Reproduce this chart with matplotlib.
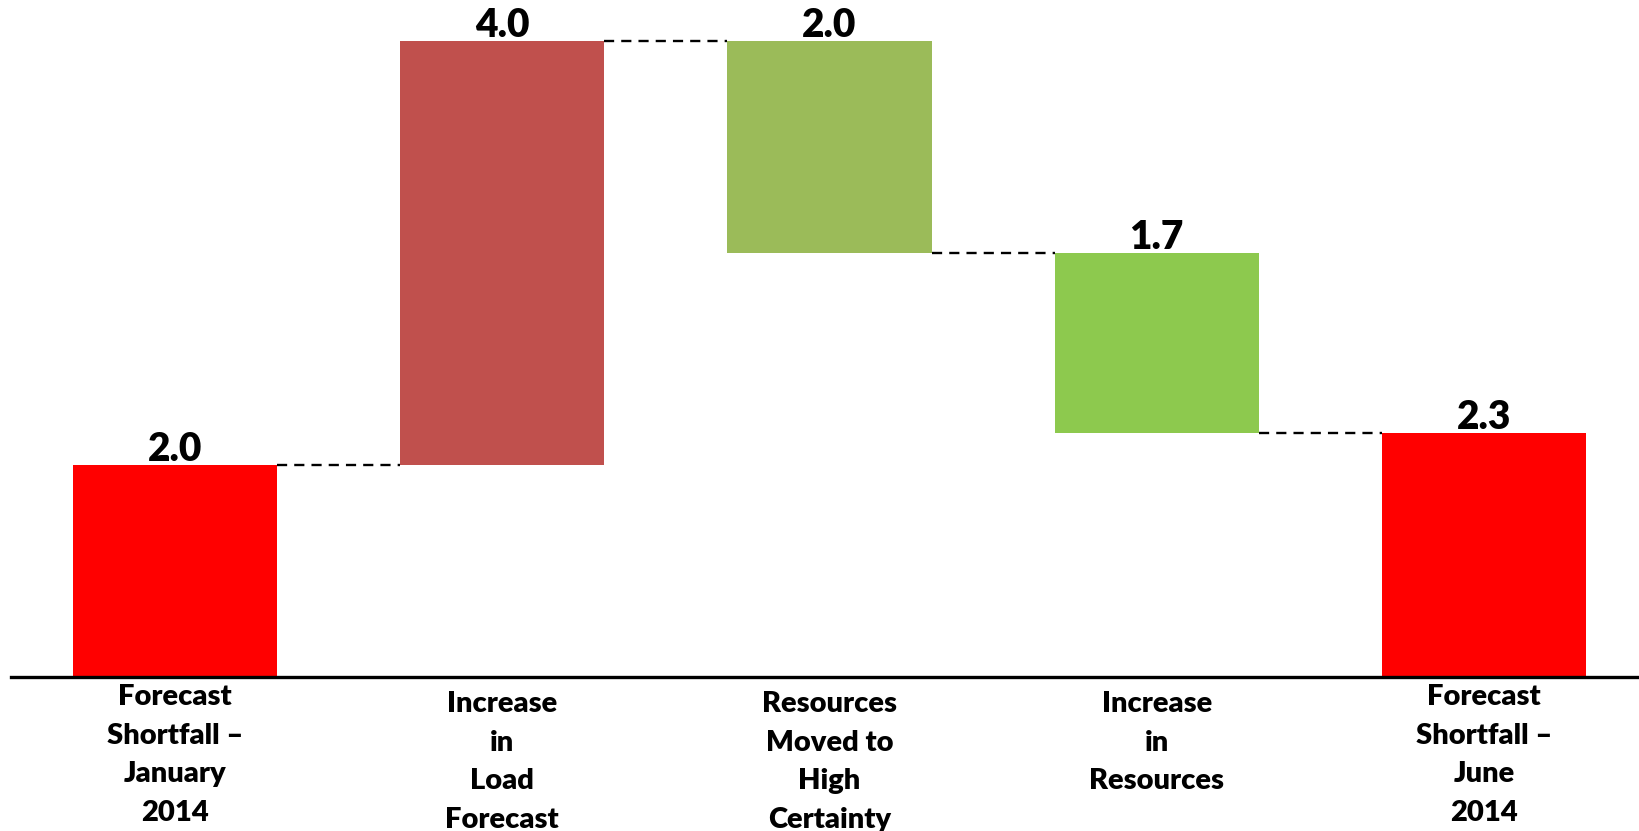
import numpy as np
import matplotlib
matplotlib.use("Agg")
import matplotlib.pyplot as plt

plt.rcParams['font.family'] = ['Lato', 'DejaVu Sans']
plt.rcParams['font.weight'] = 'heavy'

categories = [
    "Forecast\nShortfall –\nJanuary\n2014",
    "Increase\nin\nLoad\nForecast",
    "Resources\nMoved to\nHigh\nCertainty",
    "Increase\nin\nResources",
    "Forecast\nShortfall –\nJune\n2014",
]
# change per step; first and last are totals
changes = [2.0, 4.0, -2.0, -1.7, 2.3]
is_total = [True, False, False, False, True]
colors = ["#FF0000", "#C0504D", "#9BBB59", "#8DC94E", "#FF0000"]

# waterfall geometry
bottoms, tops = [], []
level = 0.0
for c, tot in zip(changes, is_total):
    if tot:
        b, t = 0.0, c
        level = c
    else:
        b, t = level, level + c
        level = t
    bottoms.append(min(b, t))
    tops.append(max(b, t))
bottoms = np.array(bottoms)
tops = np.array(tops)
heights = tops - bottoms

fig = plt.figure(figsize=(16.4, 8.31), dpi=100)
ax = fig.add_axes([11 / 1640, 154 / 831, 1629 / 1640, 677 / 831])

x = np.arange(len(categories))
width = 0.624
ax.bar(x, heights, bottom=bottoms, width=width, color=colors, zorder=2)

# dashed connectors between consecutive bars
level = 0.0
for i in range(len(changes) - 1):
    level = changes[0] if i == 0 else level + changes[i]
    ax.plot([x[i] + width / 2, x[i + 1] - width / 2], [level, level],
            color="black", lw=1.7, linestyle=(0, (4.3, 3.0)), zorder=1)

# value labels on top of each bar
for xi, top, c in zip(x, tops, changes):
    ax.annotate(f"{abs(c):.1f}", (xi, top), xytext=(0, -2), textcoords="offset points",
                ha="center", va="bottom", fontsize=28, fontweight="heavy")

# category labels under the axis
label_tops = [684, 691, 691, 691, 684]
for xi, lab, ty in zip(x, categories, label_tops):
    ax.text(xi, -(ty - 677) / 677, lab, transform=ax.get_xaxis_transform(),
            ha="center", va="top", multialignment="center",
            fontsize=21, fontweight="heavy", linespacing=1.6)

ax.set_xlim(-0.5015, 4.477)
ax.set_ylim(0, 677 / 106)
for s in ["top", "right", "left"]:
    ax.spines[s].set_visible(False)
ax.spines["bottom"].set_linewidth(2.4)
ax.spines["bottom"].set_zorder(3)
ax.set_xticks([])
ax.set_yticks([])

fig.savefig("out.png", dpi=100)
